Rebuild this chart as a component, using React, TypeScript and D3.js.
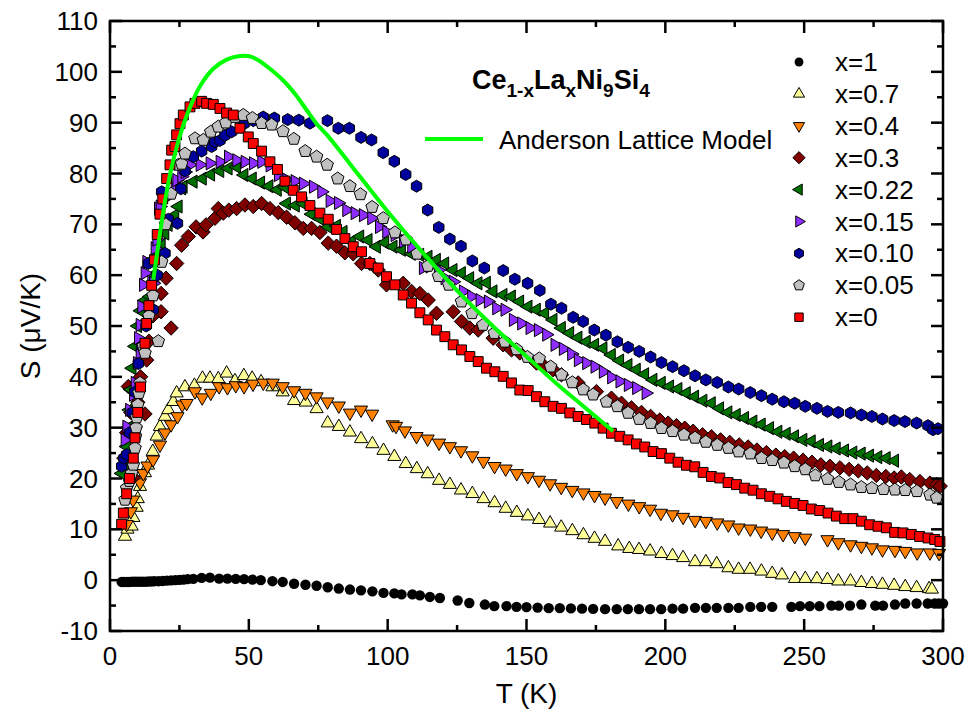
import React from "react";
import * as d3 from "d3";

// Ce(1-x)La(x)Ni9Si4 thermopower, S (uV/K) vs T (K), one [T, S] list per composition
const seriesX1: [number, number][] = [
  [4.2, -0.35], [5, -0.35], [6, -0.35], [7, -0.35], [8, -0.3], [9, -0.3], [10, -0.3], [11, -0.3], [12, -0.3],
  [13, -0.3], [14, -0.25], [15, -0.25], [16, -0.2], [17.5, -0.2], [19, -0.15], [20.5, -0.1], [22, -0.05],
  [23.5, 0], [25, 0.05], [26.5, 0.1], [28, 0.2], [30, 0.25], [33, 0.45], [36, 0.5], [39.3, 0.3], [42.3, 0.3],
  [45.3, 0.25], [48.3, 0.2], [51.3, 0.1], [54.3, 0], [58.5, -0.2], [62.2, -0.35], [66.3, -0.7], [70.4, -0.9],
  [74.4, -1.1], [78.4, -1.4], [82.4, -1.65], [86.4, -1.85], [90.4, -2], [94.5, -2.2], [98.5, -2.5], [102.4, -2.6],
  [105, -2.8], [108.9, -2.8], [111.6, -3], [115.2, -3.3], [118.8, -3.5], [125.2, -4], [129.4, -4.5], [135, -4.8],
  [138.4, -5.1], [142.8, -5.1], [146.4, -5.25], [150, -5.3], [154, -5.4], [158, -5.5], [162, -5.5], [166, -5.55],
  [170, -5.6], [174, -5.65], [178.3, -5.7], [182.5, -5.7], [186.5, -5.7], [190.5, -5.7], [194.5, -5.7],
  [198.5, -5.7], [202.6, -5.6], [206.4, -5.6], [210.7, -5.45], [214.6, -5.45], [218.5, -5.45], [222.7, -5.45],
  [226.4, -5.45], [230.6, -5.25], [234.5, -5.25], [238.5, -5.25], [245.4, -5.25], [248.5, -5.1], [252, -5.1],
  [255.5, -5.1], [259.8, -5], [262.5, -5], [266.5, -5], [270.6, -4.8], [275.6, -5], [278.4, -5], [282.7, -4.8],
  [286.4, -4.6], [290.5, -4.6], [294.5, -4.6], [297, -4.6], [298.5, -4.6], [300, -4.6],
];

const seriesX07: [number, number][] = [
  [5.4, 8.6], [6.3, 10], [7.8, 10.6], [8.4, 12.3], [9.6, 14.3], [10, 16], [10.8, 18.4], [12.6, 21.1],
  [13.7, 22.6], [15.4, 25.3], [16.8, 28.3], [18, 30.2], [19.8, 32.2], [21, 33.5], [22.8, 35.1], [24, 36.8],
  [27, 38], [30.4, 38.3], [33.3, 39.7], [36, 39.7], [39, 39.6], [42, 40.7], [45, 39.2], [48.2, 40.2],
  [51.2, 39.7], [54.4, 39], [58.5, 38], [62.2, 37], [66.3, 35.3], [70.5, 35], [74.4, 33.7], [78.4, 30.9],
  [82.4, 30.2], [86.4, 29.1], [90.4, 27.8], [94.5, 26.8], [98.5, 25.5], [102.4, 24.3], [106.5, 22.9],
  [110.5, 21.9], [114.4, 20.9], [118.5, 19.6], [122.4, 18.8], [126.4, 17.7], [130.5, 17], [134.5, 16],
  [138.5, 15.2], [142.5, 14.1], [146.5, 13.3], [150.5, 12.6], [154.5, 11.9], [158.5, 11.2], [162.5, 10.4],
  [166.5, 9.7], [170.5, 8.9], [174.5, 8.2], [178.3, 7.6], [183, 6.7], [187, 6.2], [190.5, 6], [194.5, 5.7],
  [198.6, 5.2], [202.6, 4.8], [206.4, 4.4], [210.7, 3.6], [214.6, 3.6], [218.5, 3.2], [222.7, 2.4],
  [226.4, 2.1], [230.5, 2.1], [234.6, 1.75], [238.5, 1.3], [242, 1], [246.7, 0.3], [250.4, 0.3], [254.6, 0.25],
  [258.4, 0.1], [262.3, -0.2], [266.7, -0.2], [270.6, -0.5], [274.4, -0.7], [278.2, -0.85], [282.4, -1.05],
  [286.4, -1.3], [290.5, -1.5], [295, -1.7], [296, -1.8],
];

const seriesX04: [number, number][] = [
  [6, 11], [7.5, 13.5], [8.3, 15.8], [10.8, 19.2], [12, 21], [13.5, 22.5], [15.5, 23.7], [18, 26.6],
  [19.8, 29], [22, 30.6], [24.3, 32.2], [26, 34.5], [27.6, 34.8], [30.6, 37.1], [33.2, 35.9], [36.3, 36.8],
  [39.3, 38.1], [42.3, 37.9], [45.3, 38.3], [48.3, 38.1], [51.5, 38.6], [55.2, 38.8], [58.6, 38.8],
  [62.2, 38.1], [66.3, 37.3], [70.4, 36.8], [74.4, 36.1], [78.3, 35.1], [82.4, 34.3], [86.4, 32.9],
  [90.4, 33.5], [94.4, 32.7], [101.8, 30.6], [103, 30.3], [106.2, 29.4], [110.4, 28.3], [114.4, 27.8],
  [118.5, 27], [122.4, 26.3], [126.4, 25.5], [130.5, 24.5], [134.5, 23.4], [138.5, 22.4], [142.5, 21.9],
  [146.5, 21], [150.5, 20.4], [154.5, 19.7], [158.5, 19], [162.5, 18.3], [166.5, 17.7], [170.5, 17.2],
  [174.5, 16.7], [178.3, 16.2], [182.5, 15.5], [186.7, 15], [190.6, 14.5], [194.5, 14], [198.4, 13.2],
  [202.6, 12.9], [206.4, 12.4], [210.7, 11.8], [214.6, 11.6], [218.7, 11.3], [222.7, 10.9], [226.4, 10.3],
  [230.6, 10.1], [234.5, 9.7], [238.5, 9.3], [242.4, 9], [246.6, 8.6], [250.4, 8.3], [258.4, 8], [262.3, 7.4],
  [266.7, 7], [270.6, 6.7], [274.4, 6.4], [278.2, 6], [282.7, 5.9], [286.4, 5.7], [290.7, 5.4], [295.3, 5.4],
  [298.6, 5.3],
];

const seriesX03: [number, number][] = [
  [5, 24], [6, 29], [6.6, 38.1], [7.5, 33], [8.3, 20.2], [9, 30], [10, 35], [11, 40], [12.6, 32.7],
  [13.2, 43.3], [13.2, 52.5], [14, 47], [15.5, 52], [18.4, 52.8], [18.4, 56.4], [20.2, 59.4], [22, 49.6],
  [24, 62.3], [25.8, 65.9], [28.2, 67.6], [31, 69.5], [33.5, 68.5], [34.6, 69.9], [37.8, 71.2], [39, 73.1],
  [40.8, 72.2], [42.8, 72.8], [45.6, 73.1], [48.6, 73.8], [51.6, 73.5], [54.6, 74.1], [57.6, 73.1],
  [60.6, 72.3], [63.6, 71.4], [66.6, 70.3], [69.6, 69.2], [72.6, 69.2], [75.6, 68.4], [78.6, 66.3],
  [81.6, 65.7], [84.6, 64.4], [87.6, 64.2], [90.6, 62.3], [93.6, 62.3], [96.6, 61], [99.6, 58.1],
  [105.6, 58.4], [108.6, 56.8], [111.6, 56.4], [114.6, 55.1], [117.6, 52.5], [123.6, 52.8], [126.6, 50.9],
  [129.6, 49.6], [132.6, 49.2], [138, 47.6], [141.6, 46.3], [144.6, 45.3], [147.6, 44.7], [153.6, 42.7],
  [156.6, 42], [159.6, 41.4], [162.6, 40.4], [168.6, 38.8], [175.2, 37.1], [180.6, 35.8], [184.2, 34.8],
  [187.8, 33.9], [191.4, 33], [194.7, 32.2], [198, 31.5], [201, 30.9], [204, 30.4], [207, 29.9], [210, 29.3],
  [213.4, 28.6], [216.6, 28.2], [219.9, 27.6], [223.2, 27.1], [226.6, 26.6], [229.8, 26.2], [233, 25.6],
  [236.4, 25.1], [239.8, 24.6], [243, 24.3], [246.2, 24], [249.6, 23.6], [252.8, 23.2], [256, 22.7],
  [259.3, 22.4], [262.9, 22.1], [266.2, 21.8], [269.5, 21.5], [272.7, 21.1], [276, 20.6], [279.4, 20.4],
  [282.4, 20.1], [285, 20.3], [288, 19.8], [291.7, 19.4], [295.3, 19.1], [297.7, 18.8], [299, 18.5],
];

const seriesX022: [number, number][] = [
  [4.2, 21], [5.4, 22.7], [6, 26.3], [6.6, 30], [7, 33.5], [7.5, 37.5], [8, 41.7], [9, 46], [10, 50],
  [11, 53], [12.5, 55], [14.4, 55.8], [15.5, 60], [17, 64], [18.5, 66], [19.8, 68.2], [21, 69.9],
  [23.4, 71.8], [24.6, 73.5], [25.8, 77.1], [26.4, 77.4], [30, 78.4], [33.3, 79], [36.3, 79.8], [39.6, 80.5],
  [42.6, 81], [45.6, 81.3], [48.3, 79.7], [51.3, 79], [54.3, 78.2], [57.3, 77.5], [60.3, 76.8], [63, 77.3],
  [63.6, 74.1], [66.8, 73.7], [69.6, 74.1], [72.6, 72], [75.6, 71.1], [78.6, 69.5], [81.6, 69.7], [84, 68.5],
  [87, 66.6], [90, 67.6], [93, 66.9], [96, 65.6], [99, 66.4], [102, 65.6], [105, 65], [108.6, 64.2],
  [111.6, 64], [114.6, 63.6], [117.6, 63], [120.6, 62.3], [123.6, 61], [126.6, 60.4], [129.6, 59.4],
  [132.6, 58.4], [135.6, 58.5], [138, 56.8], [141.6, 56.1], [144.6, 55.8], [147.6, 54.8], [150.6, 53.8],
  [153.6, 53.2], [156.6, 52.5], [159.6, 51.2], [162.6, 49.6], [165.6, 48.6], [168.6, 47.7], [171.6, 46.9],
  [174.6, 46.3], [177.6, 45.6], [180.6, 44.3], [183.6, 43.2], [186.6, 42.3], [189.6, 41.4], [192.6, 40.5],
  [195.6, 39.4], [198.6, 38.8], [201.6, 38.1], [204.6, 37.6], [207.6, 36.8], [210.6, 36.1], [213.6, 35.3],
  [216.6, 34.8], [219.6, 33.8], [222.6, 33], [225.6, 32.5], [228.6, 31.9], [231.6, 31.2], [234.6, 30.6],
  [237.6, 29.9], [240.6, 29.2], [243.6, 28.8], [246.6, 28.3], [249.6, 27.6], [252.6, 27.3], [255.6, 26.6],
  [258.6, 26.3], [261.6, 25.9], [264.6, 25.5], [267.6, 25.1], [270.6, 24.9], [273.6, 24.5], [276.6, 24.2],
  [279.6, 24], [282.6, 23.5],
];

const seriesX015: [number, number][] = [
  [5.4, 27.6], [6, 30.2], [7, 33.5], [8.4, 36.5], [9, 38.8], [9.8, 42.7], [10.2, 47.6], [10.8, 44.7],
  [10.8, 50.2], [11.4, 53.8], [12, 58.1], [12.6, 60.4], [13.2, 62.6], [15, 58.7], [15.6, 58.4], [16.2, 65.3],
  [16.8, 67], [17.4, 73.1], [18, 73.5], [19.8, 75.1], [23.4, 77.1], [24, 78.7], [25.8, 79.4], [27, 80.3],
  [28.8, 81.7], [32.4, 81.7], [36, 82], [39.6, 82.3], [42.6, 83.3], [45.6, 82.6], [48.6, 82.3], [51.6, 82],
  [54.6, 82.3], [57.6, 81.6], [60.6, 79.7], [63.6, 78.8], [66.6, 78.5], [69.6, 78], [73.2, 77.4],
  [76.2, 76.4], [79.2, 74.6], [82.2, 74.2], [85.2, 72.8], [88.2, 72.2], [91.2, 71.8], [94.2, 71.2], [97, 69.5],
  [99.6, 68.5], [102.6, 67.9], [105.6, 66.6], [108.6, 65.6], [112.8, 61.4], [115.2, 61.7], [118.2, 61],
  [120.6, 59.4], [123.6, 58.7], [127.2, 56.8], [130.2, 55.8], [133.2, 55.1], [136.2, 54.8], [139.2, 53.5],
  [142.2, 53.2], [145.2, 51.2], [148.2, 50.5], [151.2, 49.6], [154.2, 49.2], [157.2, 48.3], [160.2, 46.3],
  [163.2, 45.5], [166.2, 44.5], [168.6, 43.3], [171.6, 42.7], [174.6, 42], [177.6, 41], [180.6, 39.9],
  [183.6, 39.1], [186.6, 38.4], [189.6, 37.8], [193, 36.8],
];

const seriesX010: [number, number][] = [
  [4.2, 22.4], [5, 24], [6, 24.7], [7, 29], [8, 33], [9, 37], [10.2, 42.6], [11.5, 46], [13, 50],
  [13.8, 62.3], [15, 53.2], [15.6, 53.2], [17, 60], [18.6, 76.4], [19.8, 64.3], [21, 71], [24.3, 70.2],
  [25.5, 77], [27, 80.5], [30, 83.3], [33, 84.4], [36.6, 85.3], [37.8, 86.2], [39.6, 86.5], [41.4, 87.5],
  [43.8, 88.2], [48.3, 89.8], [51.6, 90.4], [55.2, 91.1], [59.2, 90.9], [64, 90.6], [68, 90.5], [72, 89.9],
  [78.3, 90.4], [82.2, 88.9], [86.2, 88.9], [90.4, 87.1], [94.2, 86.6], [98.4, 84.1], [102.4, 82.4],
  [106.5, 79.8], [110.4, 77.5], [114.4, 72.8], [118.4, 69.4], [122.4, 67.1], [126.4, 65.7], [130.5, 62.8],
  [134.8, 61.4], [141.6, 60.9], [145.8, 59.2], [150.4, 58.4], [154.8, 57], [158.8, 54.3], [162.6, 53.5],
  [166.8, 51.7], [170.4, 50.9], [174.4, 49.2], [178.6, 48.2], [182.7, 46.9], [186.6, 45.8], [190.6, 45],
  [194.7, 43.9], [198.6, 42.8], [202.6, 42], [206.7, 41.2], [210.7, 40.2], [214.6, 39.4], [218.7, 38.9],
  [222.7, 38], [226.4, 37.6], [230.6, 36.9], [234.6, 36.3], [238.5, 35.6], [242.7, 35.1], [246.6, 34.8],
  [250.4, 34.2], [254.6, 33.8], [258.4, 33.2], [262.3, 33], [266.7, 32.9], [270.6, 32.5], [274.4, 32.2],
  [278.2, 31.7], [282.4, 31.4], [286.3, 31.2], [290.5, 30.9], [294.6, 30.4], [296.4, 29.6], [298.2, 29.8],
];

const seriesX005: [number, number][] = [
  [5.4, 15.8], [6, 18.1], [7, 19.5], [7.8, 21], [8.4, 22.7], [9, 26], [9.2, 28.3], [9.4, 30], [9.6, 32],
  [10, 34.5], [10.4, 36.8], [10.8, 38.8], [12, 46], [12.6, 44.7], [14, 52], [15.5, 56], [17.4, 47],
  [18.6, 62.6], [20, 70], [22, 76], [24.6, 81.7], [25.8, 81.9], [27, 83.9], [30.6, 86.9], [33.6, 86.6],
  [36.3, 88.2], [39, 89.2], [41.7, 90], [45, 91.1], [48, 91.5], [51.3, 90.9], [54.6, 89.9], [58.2, 89.6],
  [62.3, 88.3], [66.2, 86.8], [70.3, 84.4], [74.4, 83.3], [78.2, 81.7], [82, 79], [86.4, 77.5], [90.2, 75.9],
  [94.4, 73.4], [98.4, 71.2], [102.6, 68.4], [106.6, 67], [110.6, 64.2], [114.5, 61.8], [118.3, 59.8],
  [122, 58.1], [126.6, 54.8], [130.4, 52.5], [134.3, 50.2], [138.4, 48.6], [142.2, 46.9], [146.4, 45.4],
  [150.3, 43.9], [154.6, 43.6], [158.7, 42], [162.6, 40.4], [166.5, 38.9], [170.4, 37.5], [174, 36.5],
  [178.8, 35.1], [182.7, 34.2], [186.6, 32.9], [190.6, 31.7], [194.7, 30.9], [198.6, 29.9], [202.6, 29.3],
  [206.7, 28.6], [210.7, 28], [214.6, 27.2], [218.7, 26.6], [222.7, 26], [226.4, 25.3], [230.6, 24.9],
  [234.6, 24], [238.5, 23.6], [242.7, 23.1], [246.6, 22.4], [250.4, 21.8], [254, 20.6], [258.4, 19.9],
  [262.5, 19.3], [266.7, 18.8], [270.6, 18.3], [274.4, 18.1], [278.6, 17.9], [282.7, 17.8], [286.4, 17.7],
  [290.6, 17.5], [295.3, 16.8], [297.7, 16.2],
];

const seriesX0: [number, number][] = [
  [4.2, 11], [4.8, 13.2], [6, 17], [7, 20], [8.4, 24], [9, 28], [10, 33], [11, 38], [12.6, 46.6],
  [13.2, 50.5], [14, 54], [15, 58], [16, 63], [17, 68], [18, 72], [19, 75], [20.4, 79], [21.6, 81.7],
  [22.2, 84.6], [23.4, 85.3], [24, 87.6], [25.2, 89.8], [26.4, 91.5], [28.8, 93.1], [30.6, 93.8], [33, 94.2],
  [34.8, 93.8], [37.2, 93.6], [39.6, 92.8], [42, 91.9], [44.4, 91.5], [46.8, 88.9], [49.8, 87.2],
  [51.6, 85.9], [54.6, 84.4], [57.6, 82.3], [60.3, 80.8], [63, 78.5], [66, 76.7], [69, 75.4], [72, 73.7],
  [75.6, 72.2], [78.6, 71], [81.6, 69], [84.6, 67.2], [87.6, 65.6], [90.6, 64.6], [93.6, 62.3], [96.6, 61.4],
  [99.6, 59.7], [102.6, 58.1], [105.6, 56.1], [108.6, 54.5], [111.6, 52.6], [114.6, 51.2], [117.6, 49.2],
  [120.6, 47.9], [123.6, 46.3], [126.6, 45.3], [129.6, 44], [132.6, 43], [135.6, 41.7], [138.6, 41],
  [141.6, 40.1], [144.6, 38.8], [147.6, 37.4], [150.6, 37.3], [153.6, 36.1], [156.6, 35.1], [159.6, 34.2],
  [162.6, 33.8], [165.6, 32.9], [168.6, 32.2], [171.6, 31.6], [174.6, 30.9], [177.6, 29.9], [180.6, 28.9],
  [183.6, 28.3], [186.6, 27.6], [189.6, 26.8], [192.6, 26.2], [195.6, 25.3], [198.6, 24.9], [201.6, 24],
  [204.6, 23.2], [207.6, 22.6], [210.6, 22.3], [213.6, 21.2], [216.6, 20.4], [219.6, 20.1], [222.6, 19.2],
  [225.6, 18.8], [228.6, 18.1], [231.6, 17.7], [234.6, 17], [237.6, 16.5], [240.6, 16], [243.6, 15.5],
  [246.6, 15.1], [249.6, 14.7], [252.6, 14], [255.6, 13.7], [258.6, 13.2], [261.6, 12.6], [264.6, 12.1],
  [267.6, 12.1], [270.6, 11.6], [273.6, 10.9], [276.6, 10.6], [279.6, 10.3], [282.6, 9.4], [285.6, 9.3],
  [288.6, 9], [291.6, 8.6], [294.6, 8.3], [297, 8], [298.9, 7.6],
];

// Anderson lattice model curve
const modelCurve: [number, number][] = [
  [15.6, 59.1], [18, 68.2], [20.4, 76.4], [22.8, 82.6], [25.8, 88.5], [29.4, 93.8], [33, 97.7],
  [37.2, 100.6], [42, 102.4], [46.8, 103.1], [49.8, 103.1], [53.4, 102.3], [57.6, 100.6], [62.4, 98.3],
  [66.6, 95.7], [70.8, 92.5], [74.4, 89.8], [78.6, 87.3], [90, 79.4], [102, 71.2], [114, 63.6], [126, 56.4],
  [138, 49.9], [150, 44], [162, 38.1], [169.2, 34.8], [181.2, 29.3],
];

const legendLabels = ["x=1", "x=0.7", "x=0.4", "x=0.3", "x=0.22", "x=0.15", "x=0.10", "x=0.05", "x=0"];
const xTicks = [0, 50, 100, 150, 200, 250, 300];
const yTicks = [-10, 0, 10, 20, 30, 40, 50, 60, 70, 80, 90, 100, 110];

const W = 967;
const H = 719;
const left = 110;
const right = 943;
const top = 21;
const bottom = 631;

const FONT = "'Liberation Sans', Arial, Helvetica, sans-serif";

// regular polygon marker, size = circumradius^2
const polygon = (n: number, rotDeg: number) => ({
  draw(ctx: any, size: number) {
    const r = Math.sqrt(size);
    for (let i = 0; i < n; i++) {
      const a = (rotDeg * Math.PI) / 180 + (i * 2 * Math.PI) / n;
      const px = r * Math.cos(a);
      const py = r * Math.sin(a);
      if (i === 0) ctx.moveTo(px, py);
      else ctx.lineTo(px, py);
    }
    ctx.closePath();
  },
});

const circleType = {
  draw(ctx: any, size: number) {
    const r = Math.sqrt(size);
    ctx.moveTo(r, 0);
    ctx.arc(0, 0, r, 0, 2 * Math.PI);
  },
};

const seriesStyle = [
  { data: seriesX1, type: circleType, r: 5.2, fill: "#000000" },
  { data: seriesX07, type: polygon(3, -90), r: 7.6, fill: "#ffff99" },
  { data: seriesX04, type: polygon(3, 90), r: 7.6, fill: "#ff8000" },
  { data: seriesX03, type: polygon(4, -90), r: 7.2, fill: "#800000" },
  { data: seriesX022, type: polygon(3, 180), r: 7.6, fill: "#007000" },
  { data: seriesX015, type: polygon(3, 0), r: 7.6, fill: "#8f2cff" },
  { data: seriesX010, type: polygon(6, -90), r: 6, fill: "#00009c" },
  { data: seriesX005, type: polygon(5, -90), r: 6.6, fill: "#c0c0c0" },
  { data: seriesX0, type: polygon(4, 45), r: 7, fill: "#ff0000" },
];

export default function App() {
  const x = d3.scaleLinear().domain([0, 300]).range([left, right]);
  const y = d3.scaleLinear().domain([-10, 110]).range([bottom, top]);

  const line = d3
    .line<[number, number]>()
    .x((d) => x(d[0]))
    .y((d) => y(d[1]))
    .curve(d3.curveCatmullRom.alpha(0.5));

  const xMinor = d3.range(25, 300, 50);
  const yMinor = d3.range(-5, 110, 10);

  const legendX = 799;
  const legendY0 = 62;
  const legendStep = 31.9;

  return (
    <svg
      width={W}
      height={H}
      style={{ position: "absolute", left: 0, top: 0, background: "#fff" }}
      fontFamily={FONT}
    >
      <rect x={0} y={0} width={W} height={H} fill="#fff" />

      {/* data markers */}
      {seriesStyle.map((s, si) => {
        const path = d3.symbol().type(s.type as any).size(s.r * s.r)() as string;
        return (
          <g key={si}>
            {s.data.map((d, i) => (
              <path
                key={i}
                d={path}
                transform={`translate(${x(d[0])},${y(d[1])})`}
                fill={s.fill}
                stroke="#000"
                strokeWidth={si === 0 ? 0 : 1}
              />
            ))}
          </g>
        );
      })}

      {/* model curve */}
      <path d={line(modelCurve) || ""} fill="none" stroke="#00ff00" strokeWidth={4} />

      {/* frame and ticks */}
      <g stroke="#000" strokeWidth={2.5}>
        <rect x={left} y={top} width={right - left} height={bottom - top} fill="none" />
        {xTicks.map((t) => (
          <g key={"xt" + t}>
            <line x1={x(t)} x2={x(t)} y1={bottom} y2={bottom - 12} />
            <line x1={x(t)} x2={x(t)} y1={top} y2={top + 12} />
          </g>
        ))}
        {xMinor.map((t) => (
          <g key={"xm" + t}>
            <line x1={x(t)} x2={x(t)} y1={bottom} y2={bottom - 6} />
            <line x1={x(t)} x2={x(t)} y1={top} y2={top + 6} />
          </g>
        ))}
        {yTicks.map((t) => (
          <g key={"yt" + t}>
            <line x1={left} x2={left + 12} y1={y(t)} y2={y(t)} />
            <line x1={right} x2={right - 12} y1={y(t)} y2={y(t)} />
          </g>
        ))}
        {yMinor.map((t) => (
          <g key={"ym" + t}>
            <line x1={left} x2={left + 6} y1={y(t)} y2={y(t)} />
            <line x1={right} x2={right - 6} y1={y(t)} y2={y(t)} />
          </g>
        ))}
      </g>

      {/* tick labels */}
      <g fontSize={26} fill="#000">
        {xTicks.map((t) => (
          <text key={"xl" + t} x={x(t)} y={bottom + 34} textAnchor="middle">
            {t}
          </text>
        ))}
        {yTicks.map((t) => (
          <text key={"yl" + t} x={left - 12} y={y(t) + 9} textAnchor="end">
            {t}
          </text>
        ))}
      </g>

      {/* axis titles */}
      <text x={(left + right) / 2} y={703} fontSize={28} textAnchor="middle">
        T (K)
      </text>
      <text
        transform={`translate(40,${(top + bottom) / 2}) rotate(-90)`}
        fontSize={28}
        textAnchor="middle"
      >
        S (μV/K)
      </text>

      {/* compound label */}
      <text x={472} y={89} fontSize={27} fontWeight="bold">
        Ce
        <tspan fontSize={19} dy={8}>1-x</tspan>
        <tspan dy={-8}>La</tspan>
        <tspan fontSize={19} dy={8}>x</tspan>
        <tspan dy={-8}>Ni</tspan>
        <tspan fontSize={19} dy={8}>9</tspan>
        <tspan dy={-8}>Si</tspan>
        <tspan fontSize={19} dy={8}>4</tspan>
      </text>

      {/* model legend */}
      <line x1={425} x2={483} y1={139} y2={139} stroke="#00ff00" strokeWidth={4} />
      <text x={499} y={149} fontSize={26}>
        Anderson Lattice Model
      </text>

      {/* series legend */}
      {seriesStyle.map((s, i) => {
        const r = s.r * 0.85;
        const path = d3.symbol().type(s.type as any).size(r * r)() as string;
        const ly = legendY0 + i * legendStep;
        return (
          <g key={"lg" + i}>
            <path
              d={path}
              transform={`translate(${legendX},${ly})`}
              fill={s.fill}
              stroke="#000"
              strokeWidth={i === 0 ? 0 : 1}
            />
            <text x={835} y={ly + 9} fontSize={26}>
              {legendLabels[i]}
            </text>
          </g>
        );
      })}
    </svg>
  );
}
